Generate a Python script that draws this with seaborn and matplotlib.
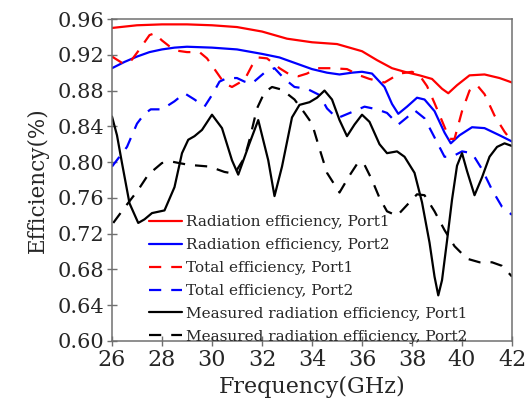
import numpy as np
import pandas as pd
import matplotlib
matplotlib.use("Agg")
import matplotlib.pyplot as plt
import seaborn as sns

# ---- data -------------------------------------------------------------
rad_p1_f = [26, 27, 28, 29, 30, 31, 32, 33, 34, 35, 36, 36.6, 37.2, 37.7, 38.3,
            38.8, 39.2, 39.45, 39.8, 40.3, 40.9, 41.5, 42]
rad_p1 = [.950, .953, .954, .954, .953, .951, .946, .938, .934, .932, .924, .914,
          .905, .901, .897, .893, .882, .877, .886, .897, .898, .894, .889]

rad_p2_f = [26, 26.5, 27, 27.5, 28, 28.5, 29, 30, 31, 32, 32.7, 33.3, 34, 34.6, 35.1,
            35.6, 36.0, 36.4, 36.9, 37.2, 37.45, 37.8, 38.2, 38.5, 38.9, 39.3, 39.55,
            39.9, 40.4, 40.9, 41.5, 42]
rad_p2 = [.905, .912, .918, .923, .926, .928, .929, .928, .926, .921, .917, .911,
          .904, .900, .898, .900, .901, .899, .884, .865, .854, .862, .872, .870,
          .857, .833, .821, .830, .839, .838, .830, .823]

tot_p1_f = [26, 26.4, 26.7, 27.1, 27.5, 27.7, 28.0, 28.5, 29.0, 29.5, 29.8, 30.2,
            30.5, 30.8, 31.3, 31.6, 31.85, 32.2, 32.7, 33.1, 33.45, 33.8, 34.2, 34.8,
            35.4, 35.9, 36.3, 36.9, 37.5, 38.0, 38.3, 38.6, 38.9, 39.2, 39.5, 39.7,
            40.0, 40.3, 40.6, 40.9, 41.3, 41.7, 42]
tot_p1 = [.918, .911, .911, .926, .942, .944, .936, .925, .923, .923, .916, .900,
          .888, .884, .892, .908, .917, .916, .905, .898, .896, .899, .905, .905,
          .904, .897, .893, .889, .899, .901, .897, .885, .866, .846, .826, .826,
          .857, .880, .886, .876, .852, .834, .823]

tot_p2_f = [26, 26.3, 26.6, 27.0, 27.3, 27.55, 28.0, 28.5, 28.9, 29.3, 29.7, 30.0,
            30.3, 30.6, 31.0, 31.3, 31.6, 32.1, 32.5, 32.9, 33.3, 33.8, 34.3, 34.6,
            35.0, 35.6, 36.1, 36.6, 37.0, 37.45, 37.8, 38.1, 38.5, 38.8, 39.3, 39.6,
            40.0, 40.4, 40.8, 41.2, 41.6, 42]
tot_p2 = [.795, .806, .817, .843, .854, .859, .859, .868, .877, .870, .862, .875,
          .890, .894, .894, .890, .888, .900, .905, .893, .884, .882, .875, .860,
          .849, .856, .862, .859, .855, .842, .850, .858, .849, .833, .806, .806,
          .812, .810, .792, .769, .750, .741]

mea_p1_f = [26, 26.2, 26.4, 26.7, 27.05, 27.3, 27.6, 28.1, 28.5, 28.8, 29.05, 29.3,
            29.6, 30.0, 30.4, 30.8, 31.05, 31.5, 31.85, 32.25, 32.5, 32.8, 33.2, 33.5,
            33.9, 34.2, 34.5, 34.8, 35.1, 35.4, 35.7, 36.0, 36.3, 36.7, 37.0, 37.4,
            37.7, 38.1, 38.4, 38.7, 38.9, 39.05, 39.2, 39.4, 39.6, 39.8, 40.0, 40.2,
            40.5, 40.8, 41.1, 41.4, 41.7, 42]
mea_p1 = [.851, .830, .799, .754, .732, .736, .743, .746, .772, .810, .825, .829,
          .836, .853, .838, .802, .786, .821, .847, .802, .762, .795, .850, .864,
          .867, .872, .880, .870, .847, .829, .842, .853, .845, .820, .810, .812,
          .806, .788, .755, .710, .672, .651, .668, .712, .758, .796, .810, .790,
          .763, .783, .806, .817, .821, .818]

mea_p2_f = [26.05, 26.5, 27.05, 27.45, 28.0, 28.4, 29.05, 29.9, 30.5, 30.9, 31.3,
            31.5, 31.8, 32.1, 32.4, 32.8, 33.3, 33.7, 34.0, 34.3, 34.6, 35.1, 35.5,
            35.85, 36.1, 36.4, 36.7, 37.0, 37.4, 37.8, 38.2, 38.5, 38.9, 39.3, 39.7,
            40.2, 40.7, 41.2, 41.6, 42]
mea_p2 = [.732, .749, .769, .786, .799, .8005, .797, .795, .789, .787, .805, .825,
          .860, .878, .884, .881, .870, .855, .843, .815, .788, .766, .785, .800,
          .797, .780, .760, .745, .740, .752, .764, .763, .745, .724, .706, .692,
          .688, .688, .684, .672]

series_names = [
    "Radiation efficiency, Port1",
    "Radiation efficiency, Port2",
    "Total efficiency, Port1",
    "Total efficiency, Port2",
    "Measured radiation efficiency, Port1",
    "Measured radiation efficiency, Port2",
]
series_data = [
    (rad_p1_f, rad_p1), (rad_p2_f, rad_p2),
    (tot_p1_f, tot_p1), (tot_p2_f, tot_p2),
    (mea_p1_f, mea_p1), (mea_p2_f, mea_p2),
]

x_ticks = [26, 28, 30, 32, 34, 36, 38, 40, 42]
y_ticks = [0.60, 0.64, 0.68, 0.72, 0.76, 0.80, 0.84, 0.88, 0.92, 0.96]

# ---- long-form table ------------------------------------------------------
frames = []
for name, (f, v) in zip(series_names, series_data):
    frames.append(pd.DataFrame({"Frequency": f, "Efficiency": v, "Series": name}))
df = pd.concat(frames, ignore_index=True)

colors = ["#ff0000", "#0000ff", "#ff0000", "#0000ff", "#000000", "#000000"]
dash_solid = ""
dash_long = (5.5, 4.5)
palette = dict(zip(series_names, colors))
dashes = dict(zip(series_names, [dash_solid, dash_solid, dash_long, dash_long,
                                 dash_solid, dash_long]))

# ---- plotting ---------------------------------------------------------------
sns.set_style("ticks")
plt.rcParams["font.family"] = ["DejaVu Serif"]

fig = plt.figure(figsize=(5.25, 4.16), dpi=100)
ax = fig.add_axes([0.2133, 0.1803, 0.762, 0.774])

sns.lineplot(data=df, x="Frequency", y="Efficiency", hue="Series", style="Series",
             palette=palette, dashes=dashes, hue_order=series_names,
             style_order=series_names, estimator=None, sort=True,
             linewidth=1.6, ax=ax)

ax.set_xlim(26, 42)
ax.set_ylim(0.60, 0.96)
ax.set_xticks(x_ticks)
ax.set_yticks(y_ticks)
ax.set_xticklabels([str(t) for t in x_ticks], fontsize=16)
ax.set_yticklabels([f"{t:.2f}" for t in y_ticks], fontsize=15)
ax.tick_params(direction="inout", length=7, width=1.0, color="#707070", pad=2)
ax.set_xlabel("Frequency(GHz)", fontsize=16, labelpad=4)
ax.set_ylabel("Efficiency(%)", fontsize=15.5, labelpad=6)

for side in ["top", "right", "bottom", "left"]:
    ax.spines[side].set_visible(True)
    ax.spines[side].set_color("#707070")
    ax.spines[side].set_linewidth(1.1)

leg = ax.legend(loc="lower left", bbox_to_anchor=(0.092, -0.008), frameon=False,
                fontsize=11, handlelength=2.2, handletextpad=0.25,
                labelspacing=0.58, borderpad=0, borderaxespad=0)

fig.savefig("out.png", dpi=100)
